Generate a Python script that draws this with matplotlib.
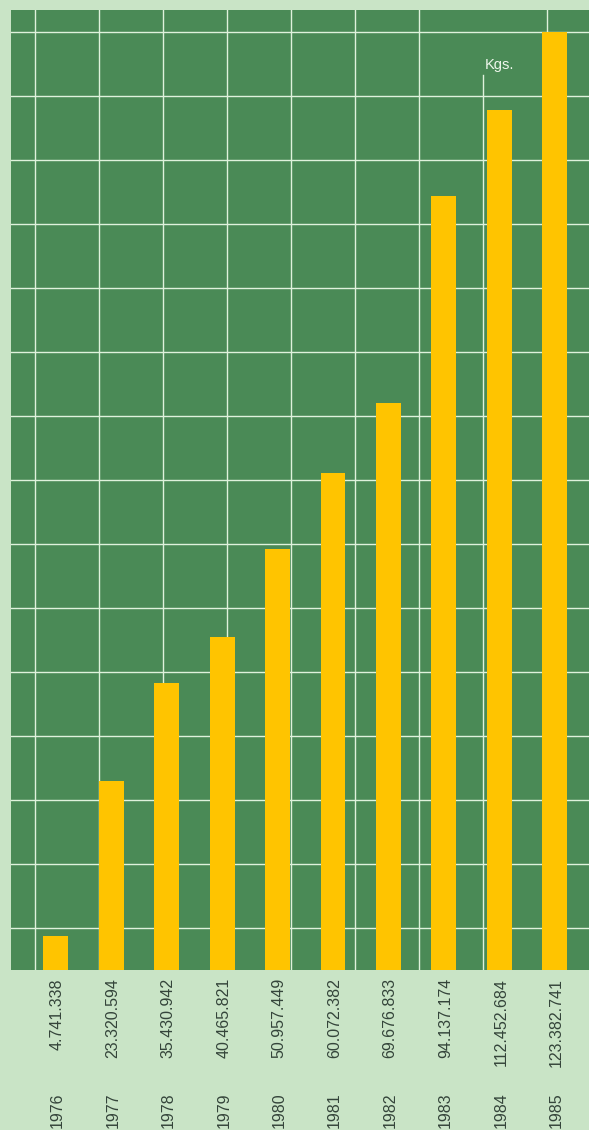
import matplotlib
matplotlib.use("Agg")
import matplotlib.pyplot as plt
import matplotlib.transforms as mtransforms
import numpy as np

years = ["1976", "1977", "1978", "1979", "1980", "1981", "1982", "1983", "1984", "1985"]
# printed values (kg)
kgs = [4741338, 23320594, 35430942, 40465821, 50957449,
       60072382, 69676833, 94137174, 112452684, 123382741]
# bar heights as drawn in the picture (millions of kg)
drawn = [4.5, 24.9, 37.7, 43.8, 55.4, 65.4, 74.6, 101.8, 113.2, 123.4]

BG = "#c9e4c6"
PLOT = "#4a8a56"
BAR = "#ffc400"
GRID = "#dff2dc"
TXT = "#34443a"

plt.rcParams["font.family"] = ["Liberation Sans", "DejaVu Sans"]

fig = plt.figure(figsize=(5.89, 11.30), dpi=100, facecolor=BG)
ax = fig.add_axes([11 / 589, 160 / 1130, 578 / 589, 960 / 1130])
ax.set_facecolor(PLOT)

x = np.arange(len(years))
ax.bar(x, drawn, width=0.45, color=BAR, zorder=3)

ax.set_xlim(-0.81, 9.62)
ax.set_ylim(0, 126.3)

# decorative square grid
for yv in np.arange(5.52, 126, 8.418):
    ax.axhline(yv, color=GRID, lw=1.0, zorder=1)
for i, xv in enumerate(np.arange(-0.379, 9.6, 1.155)):
    top = 0.932 if i == 7 else 1.0
    ax.axvline(xv, ymax=top, color=GRID, lw=1.0, zorder=1)

ax.text(8.0, 119.0, "Kgs.", color="#eef7ec", fontsize=10.5,
        ha="center", va="center", zorder=4)

ax.set_xticks([])
ax.set_yticks([])
for s in ax.spines.values():
    s.set_visible(False)

trans = mtransforms.blended_transform_factory(ax.transData, fig.transFigure)
for xi, yr, v in zip(x, years, kgs):
    label = f"{v:,}".replace(",", ".")
    ax.text(xi + 0.03, 1 - 978 / 1130, label, transform=trans, rotation=90,
            ha="center", va="top", fontsize=11.5, color=TXT)
    ax.text(xi + 0.03, 1 - 1092 / 1130, yr, transform=trans, rotation=90,
            ha="center", va="top", fontsize=11.5, color=TXT)

fig.savefig("out.png", dpi=100, facecolor=BG)
